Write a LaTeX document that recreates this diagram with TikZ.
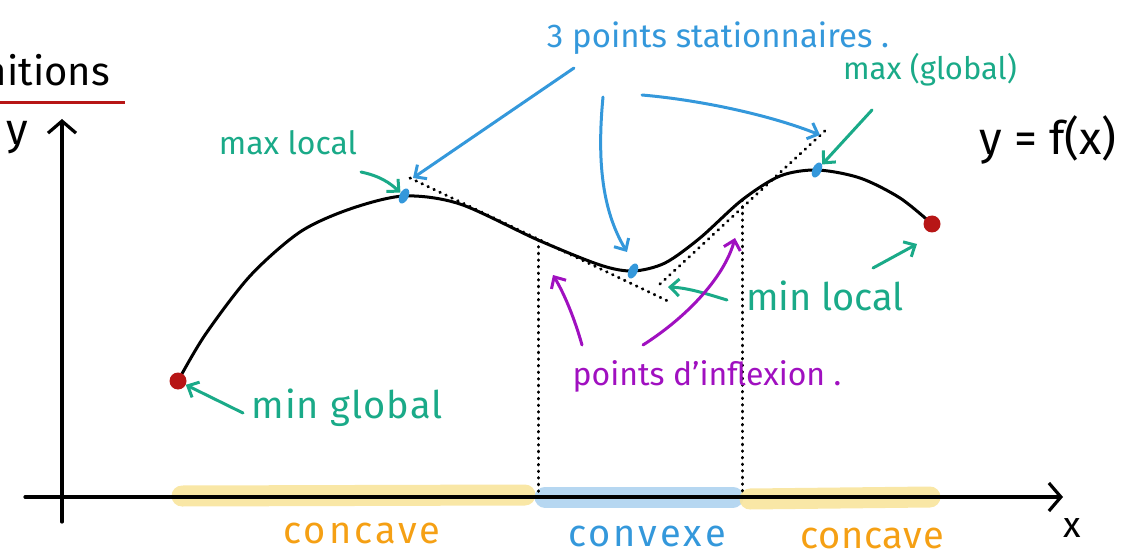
\documentclass[tikz,border=0pt]{standalone}
\usepackage{fontspec}
\setmainfont{Fira Sans}
\usepackage{tikz}
\usetikzlibrary{arrows.meta,positioning,calc,shapes.geometric}
\definecolor{hblue}{RGB}{52,152,219}
\definecolor{hgreen}{RGB}{26,170,136}
\definecolor{hpurple}{RGB}{160,16,192}
\definecolor{hred}{RGB}{183,22,22}
\definecolor{horange}{RGB}{245,160,20}
\definecolor{hyellow}{RGB}{248,228,156}
\definecolor{hlight}{RGB}{174,211,240}

\begin{document}
\begin{tikzpicture}[x=1pt,y=-1pt,line cap=round,line join=round,
  txt/.style={inner sep=0pt,font=\fontsize{32}{36}\selectfont},
  wide/.style={font=\fontsize{32}{36}\selectfont\addfontfeature{LetterSpace=#1}},
  big/.style={font=\fontsize{38}{42}\selectfont\addfontfeature{LetterSpace=#1}},
  arr/.style={-{Straight Barb[length=9pt,width=17pt]},line width=3pt},
  axis/.style={-{Straight Barb[length=12pt,width=28pt]},line width=3.2pt},
  tang/.style={line width=3pt,dash pattern=on 0.6pt off 6pt},
  band/.style={line width=21pt,opacity=0.9},
  statpt/.style={ellipse,fill=hblue,inner sep=0pt,minimum width=9pt,minimum height=16pt,rotate=-25},
  endpt/.style={circle,fill=hred,inner sep=0pt,minimum size=17pt}]
\useasboundingbox (0,0) rectangle (1135,556);

% concavity bands under the x axis
\draw[band,hyellow] (182,496) -- (525,495);
\draw[band,hlight] (545,497) -- (733,497);
\draw[band,hyellow] (750,499) -- (930,497);

% axes
\draw[axis] (25,497) -- (1063,497);
\draw[axis] (62,522) -- (62,119);
\node[txt,font=\fontsize{36}{40}\selectfont] (xl) at (1072,528) {x};
\node[txt,font=\fontsize{44}{48}\selectfont] (yl) at (17,138) {y};

% title (cut off) and red rule
\node[txt,font=\fontsize{40}{44}\selectfont,anchor=east] (title) at (110,70) {Définitions};
\draw[hred,line width=3pt,line cap=butt] (0,103) -- (125,103);

% key points of the curve
\coordinate (gmin) at (178,381);
\coordinate (lmax) at (404,196);
\coordinate (ip1) at (538,240);
\coordinate (lmin) at (633,271);
\coordinate (ip2) at (742,200);
\coordinate (gmax) at (817,170);
\coordinate (rend) at (932,224);

% tangents at the inflection points
\coordinate (t1a) at (410,178);
\coordinate (t1b) at (672,303);
\coordinate (t2a) at (660,284);
\coordinate (t2b) at (828,128);
\draw[tang] (t1a) -- (t1b);
\draw[tang] (t2a) -- (t2b);
\draw[tang] (ip1) -- (ip1 |- 0,497);
\draw[tang] (ip2) -- (ip2 |- 0,497);

% the function
\draw[line width=3pt] plot[smooth] coordinates {(gmin) (205,335) (250,276) (300,232)
  (350,209) (lmax) (460,204) (ip1) (600,265) (lmin) (665,263) (700,238) (ip2)
  (780,176) (gmax) (860,178) (900,198) (rend)};
\node[endpt] (p1) at (gmin) {};
\node[endpt] (p5) at (rend) {};
\node[statpt] (p2) at (lmax) {};
\node[statpt] (p3) at (lmin) {};
\node[statpt] (p4) at (gmax) {};

\node[txt,font=\fontsize{46}{50}\selectfont] (fx) at (1048,140) {y = f(x)};

% stationary points
\node[txt,hblue,font=\fontsize{33}{38}\selectfont] (stat) at (718,38) {3 points stationnaires .};
\coordinate (s1) at (574,68);
\coordinate (s2) at (603,97);
\coordinate (s3) at (642,95);
\draw[arr,hblue] (s1) -- (413,178);
\draw[arr,hblue] (s2) .. controls (596,170) and (605,215) .. (627,252);
\draw[arr,hblue] (s3) .. controls (700,100) and (770,115) .. (820,135);

% extrema
\node[txt,hgreen] (mxl) at (288,143) {max local};
\draw[arr,hgreen] (361,172) .. controls (380,176) and (390,183) .. (p2);
\node[txt,hgreen,font=\fontsize{31}{36}\selectfont] (mxg) at (930,70) {max (global)};
\draw[arr,hgreen] (872,110) -- (p4);
\node[txt,hgreen,big=0] (mnl) at (825,296) {min local};
\coordinate (m1) at (727,300);
\draw[arr,hgreen] (m1) .. controls (710,295) and (690,288) .. (668,287);
\draw[arr,hgreen] (873,268) -- (917,244);
\node[txt,hgreen,big=3] (mng) at (347,408) {min global};
\coordinate (m2) at (243,413);
\draw[arr,hgreen] (m2) -- (p1);

% inflection points
\node[txt,hpurple] (infl) at (707,376) {points d'inflexion .};
\draw[arr,hpurple] (582,345) .. controls (575,320) and (565,295) .. (553,275);
\draw[arr,hpurple] (643,345) .. controls (690,315) and (725,275) .. (735,238);

% concavity labels
\node[txt,horange,big=8] (cc1) at (362,533) {concave};
\node[txt,hblue,big=8] (cv) at (647,536) {convexe};
\node[txt,horange,big=2] (cc2) at (872,538) {concave};
\end{tikzpicture}
\end{document}
